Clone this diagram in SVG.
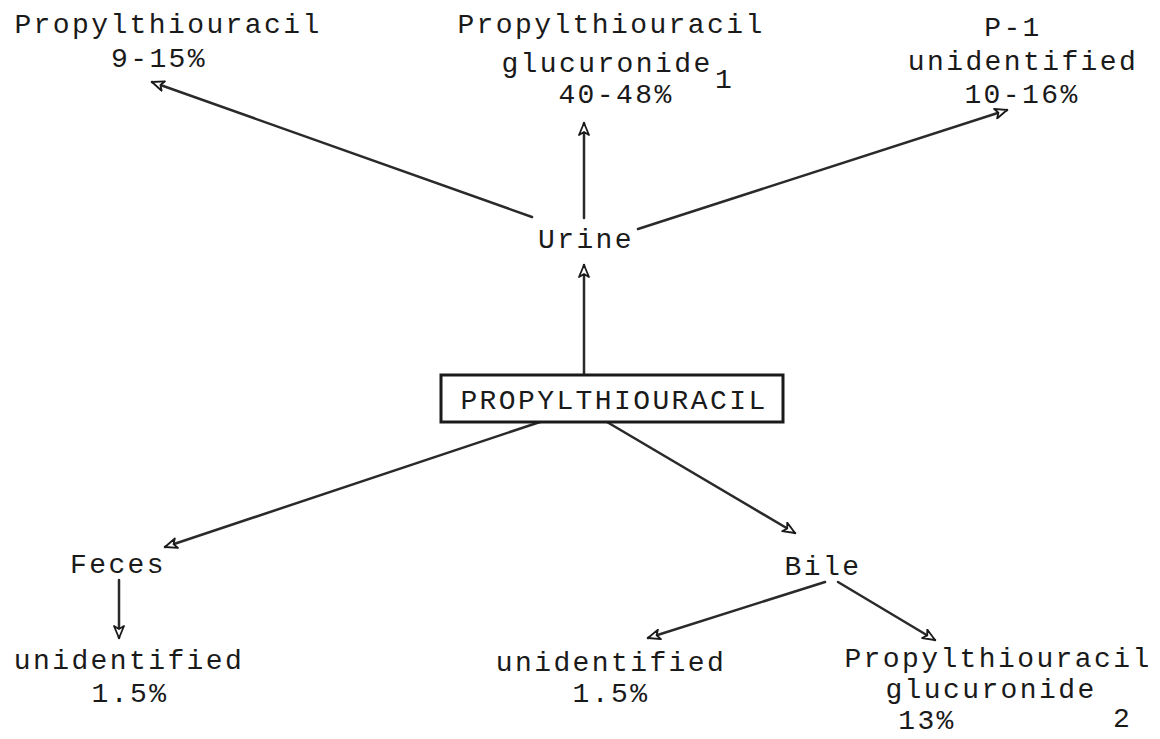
<svg xmlns="http://www.w3.org/2000/svg" width="1160" height="739" viewBox="0 0 1160 739">
<defs>
<style>
text{font-family:"Liberation Mono","Courier New",monospace;font-size:28px;letter-spacing:2.4px;fill:#1a1a1a;text-anchor:middle}
.sub{text-anchor:start}
.edge{stroke:#2a2a2a;stroke-width:2.5;fill:none;stroke-linecap:round;marker-end:url(#ah)}
.box{fill:#fff;stroke:#1a1a1a;stroke-width:3}
</style>
<marker id="ah" markerUnits="userSpaceOnUse" viewBox="0 0 14 12" markerWidth="14" markerHeight="12" refX="13" refY="6" orient="auto">
<path d="M1,1 L13,6 L1,11 L4,6 Z" fill="#fff" stroke="#1a1a1a" stroke-width="1.8" stroke-linejoin="round"/>
</marker>
</defs>
<rect width="1160" height="739" fill="#fff"/>
<g id="connectors">
<line class="edge" x1="532" y1="217" x2="152" y2="82"/>
<line class="edge" x1="584" y1="218" x2="584" y2="123"/>
<line class="edge" x1="638" y1="229" x2="1007" y2="110"/>
<line class="edge" x1="584" y1="374" x2="584" y2="265"/>
<line class="edge" x1="540" y1="422" x2="165" y2="547"/>
<line class="edge" x1="607" y1="422" x2="795" y2="533"/>
<line class="edge" x1="119" y1="580" x2="119" y2="638"/>
<line class="edge" x1="825" y1="582" x2="648" y2="638"/>
<line class="edge" x1="838" y1="582" x2="935" y2="640"/>
</g>
<g id="node-ptu-urine">
<text x="168" y="33">Propylthiouracil</text>
<text x="159" y="67">9-15%</text>
</g>
<g id="node-glucuronide1">
<text x="611" y="33">Propylthiouracil</text>
<text x="607" y="72">glucuronide</text>
<text class="sub" x="715" y="88">1</text>
<text x="616" y="103">40-48%</text>
</g>
<g id="node-p1">
<text x="1013" y="36">P-1</text>
<text x="1023" y="70">unidentified</text>
<text x="1022" y="103">10-16%</text>
</g>
<g id="node-urine">
<text x="586" y="248">Urine</text>
</g>
<g id="node-propylthiouracil">
<rect class="box" x="441" y="375" width="342" height="47"/>
<text x="614" y="409">PROPYLTHIOURACIL</text>
</g>
<g id="node-feces">
<text x="118" y="573">Feces</text>
</g>
<g id="node-feces-unidentified">
<text x="129" y="669">unidentified</text>
<text x="130" y="702">1.5%</text>
</g>
<g id="node-bile">
<text x="823" y="575">Bile</text>
</g>
<g id="node-bile-unidentified">
<text x="611" y="671">unidentified</text>
<text x="611" y="702">1.5%</text>
</g>
<g id="node-glucuronide2">
<text x="998" y="667">Propylthiouracil</text>
<text x="991" y="698">glucuronide</text>
<text class="sub" x="1113" y="727">2</text>
<text x="927" y="729">13%</text>
</g>
</svg>
